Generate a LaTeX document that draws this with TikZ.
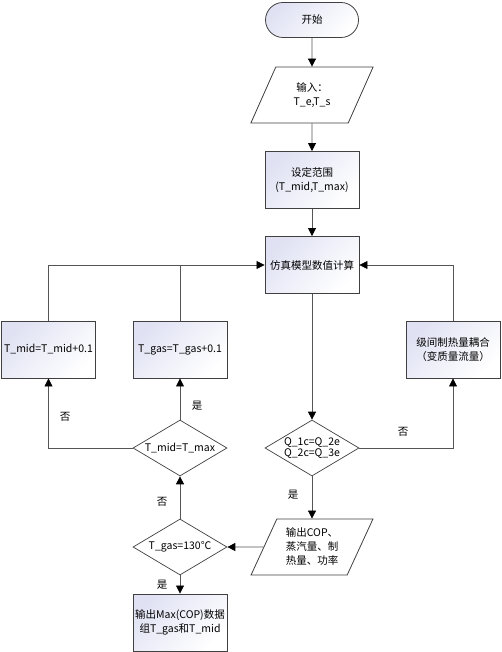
\documentclass[tikz,border=0pt]{standalone}
\usepackage{fontspec}
\setmainfont{Noto Sans CJK SC}
\usetikzlibrary{arrows.meta,calc,shapes}
\definecolor{lav}{RGB}{224,226,243}
\definecolor{ln}{RGB}{64,64,64}
\definecolor{wire}{RGB}{85,85,85}

\begin{document}
\begin{tikzpicture}[x=1pt,y=-1pt,font=\fontsize{10.5}{14}\selectfont,
term/.style={draw=ln,line width=.8pt,rounded rectangle,top color=lav,bottom color=white,shading angle=45,minimum width=93pt,minimum height=35pt,inner sep=0pt},
box/.style={draw=ln,line width=.9pt,top color=lav,bottom color=white,shading angle=45,minimum width=94pt,minimum height=57pt,inner sep=0pt,align=center},
io/.style={draw=ln,line width=.8pt,fill=white,trapezium,trapezium left angle=63,trapezium right angle=117,trapezium stretches=true,minimum width=123pt,minimum height=56pt,inner sep=0pt,align=center},
dec/.style={draw=ln,line width=.7pt,fill=white,diamond,minimum width=94pt,minimum height=56pt,inner sep=0pt},
go/.style={draw=wire,line width=.8pt,-{Triangle[length=8pt,width=8pt,color=black]}},
wire/.style={draw=wire,line width=.8pt}]
\useasboundingbox(0,0)rectangle(501,652);
% main column
\node[term](s)at(312,20){开始};
\node[io](i)at(312,95){输入：\\T\_e,T\_s};
\node[box](r)at(312,180){设定范围\\(T\_mid,T\_max)};
\node[box](c)at(312,265){仿真模型数值计算};
\node[dec,label={[align=center,font=\fontsize{10.5}{11.5}\selectfont]center:Q\_1c=Q\_2e\\Q\_2c=Q\_3e}](q)at(312,448){};
\node[io](o)at(312,547){输出COP、\\蒸汽量、制\\热量、功率};
% side boxes
\node[box](a)at(48.5,349.5){T\_mid=T\_mid+0.1};
\node[box](b)at(180,349.5){T\_gas=T\_gas+0.1};
\node[box](k)at(453,349.5){级间制热量耦合\\（变质量流量）};
\node[dec,label={center:T\_mid=T\_max}](m)at(180,448){};
\node[dec,label={center:T\_gas=130℃}](g)at(180,547){};
\node[box](f)at(180,622.5){输出Max(COP)数据\\组T\_gas和T\_mid};
% yes/no
\node(n1)at(65,417){否};\node(y1)at(197,406){是};
\node(n2)at(403,432){否};\node(y2)at(293,495){是};
\node(n3)at(162,502){否};\node(y3)at(162,585){是};
% connectors
\draw[go](s)--(i);\draw[go](i)--(r);\draw[go](r)--(c);\draw[go](c)--(q);\draw[go](q)--(o);
\draw[go](q.east)-|(k.south);\draw[go](k.north)|-(c.east);
\draw[go](o.west)--(g.east);\draw[go](g)--(m);\draw[go](g)--(f);
\draw[go](m)--(b);\draw[go](m.west)-|(a.south);
\draw[go](a.north)|-(c.west);\draw[wire](b.north)--(b.north|-c.west);
\end{tikzpicture}
\end{document}
